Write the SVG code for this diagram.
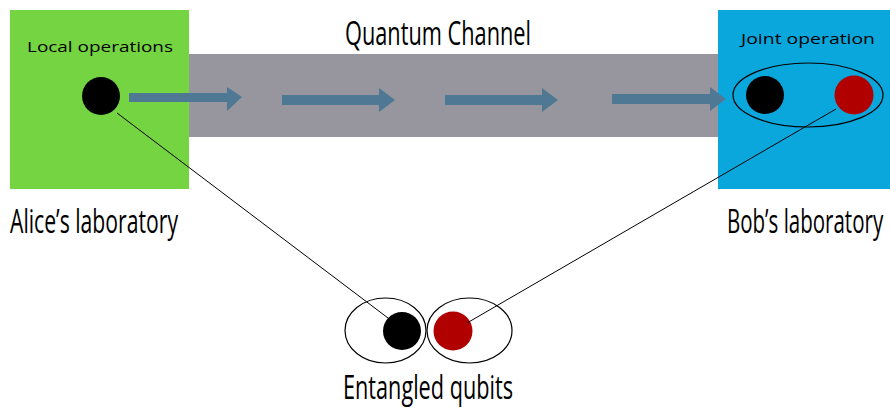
<svg xmlns="http://www.w3.org/2000/svg" width="890" height="408" viewBox="0 0 890 408">
<defs>
<style>
.lbl{font-family:"Open Sans","Liberation Sans",sans-serif;fill:#000}
.small{font-size:14px}
.big{font-size:33px}
.arrow{fill:#4e7894}
.dot{stroke:none}
.ring{fill:none;stroke:#000;stroke-width:1.2}
.link{stroke:#000;stroke-width:1;fill:none}
</style>
</defs>
<rect width="890" height="408" fill="#fff"/>
<g id="channel">
<rect x="189" y="54" width="530" height="83" fill="#97969e"/>
<text class="lbl big" x="345" y="45" textLength="186" lengthAdjust="spacingAndGlyphs">Quantum Channel</text>
</g>
<g id="alice">
<rect x="10" y="10" width="179" height="179" fill="#74d442"/>
<text class="lbl small" x="27" y="52" textLength="146" lengthAdjust="spacingAndGlyphs">Local operations</text>
<circle class="dot" cx="101" cy="96" r="19" fill="#000"/>
<text class="lbl big" x="10" y="233" textLength="168" lengthAdjust="spacingAndGlyphs">Alice’s laboratory</text>
</g>
<g id="bob">
<rect x="718" y="10" width="172" height="179" fill="#0aa7dc"/>
<text class="lbl small" x="741" y="44" textLength="134" lengthAdjust="spacingAndGlyphs">Joint operation</text>
<ellipse class="ring" cx="808" cy="95" rx="75" ry="32"/>
<circle class="dot" cx="765" cy="95" r="19" fill="#000"/>
<circle class="dot" cx="854" cy="95" r="19.5" fill="#b00000"/>
<text class="lbl big" transform="translate(727,233) scale(0.64,1)" x="0" y="0" textLength="244" lengthAdjust="spacingAndGlyphs">Bob’s laboratory</text>
</g>
<g id="entangled">
<ellipse class="ring" cx="385.5" cy="330.5" rx="40.5" ry="32.5"/>
<ellipse class="ring" cx="469.5" cy="330.5" rx="42.5" ry="32.5"/>
<circle class="dot" cx="402" cy="331" r="19" fill="#000"/>
<circle class="dot" cx="453" cy="331" r="19.5" fill="#b00000"/>
<text class="lbl big" x="343" y="399" textLength="170" lengthAdjust="spacingAndGlyphs">Entangled qubits</text>
</g>
<g id="connectors">
<polygon class="arrow" points="129,93 227,93 227,87 242,97 227,111 227,102 129,102"/>
<polygon class="arrow" points="282,95 379,95 379,88 395,100 379,112 379,105 282,105"/>
<polygon class="arrow" points="445,95 542,95 542,88 558,100 542,112 542,105 445,105"/>
<polygon class="arrow" points="612,94 710,94 710,87 726,99 710,111 710,104 612,104"/>
<line class="link" x1="117" y1="113" x2="388" y2="318"/>
<line class="link" x1="467" y1="323" x2="836" y2="109"/>
</g>
</svg>
